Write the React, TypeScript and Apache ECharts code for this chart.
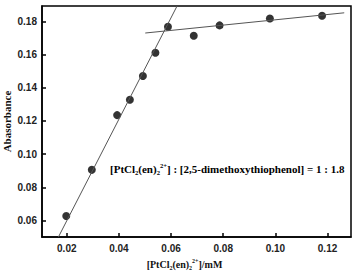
import React, { useEffect, useRef } from "react";
import * as echarts from "echarts";

const concX = [0.0198, 0.0296, 0.0393, 0.0442, 0.0492, 0.054, 0.0588, 0.0687, 0.0786, 0.0979, 0.1179];
const absorb = [0.0627, 0.0905, 0.1235, 0.1328, 0.1471, 0.1611, 0.1768, 0.1714, 0.1776, 0.1818, 0.1834];
const steepLineX = [0.0168, 0.0623];
const steepLineY = [0.05, 0.1893];
const flatLineX = [0.0501, 0.1264];
const flatLineY = [0.173, 0.1852];
const xTicks = [0.02, 0.04, 0.06, 0.08, 0.1, 0.12];
const yTicks = [0.06, 0.08, 0.1, 0.12, 0.14, 0.16, 0.18];

const serif = "'Liberation Serif', 'Times New Roman', serif";
const sans = "'Liberation Sans', Arial, sans-serif";

export default function App() {
  const ref = useRef<HTMLDivElement>(null);
  useEffect(() => {
    if (!ref.current) return;
    const chart = echarts.init(ref.current, null, { renderer: "svg" });
    const mkRich = (fs: number) => ({
      b: { fontFamily: serif, fontWeight: "bold", fontSize: fs, color: "#111" },
      sub: { fontFamily: serif, fontWeight: "bold", fontSize: fs * 0.6, color: "#111", padding: [7, 0, 0, 0] },
      sup: { fontFamily: serif, fontWeight: "bold", fontSize: fs * 0.6, color: "#111", padding: [0, 0, 7, 0] },
    });
    const axisLabelStyle = { fontFamily: sans, fontWeight: "bold", fontSize: 10, color: "#222" };
    chart.setOption({
      animation: false,
      grid: {
        left: 42, top: 6, right: 4, bottom: 38,
        outerBoundsMode: "none",
        containLabel: false,
        show: true, borderColor: "#000", borderWidth: 1.5, backgroundColor: "transparent",
      },
      xAxis: {
        type: "value",
        min: 0.0105,
        max: 0.129,
        name: "{b|[PtCl}{sub|2}{b|(en)}{sub|2}{sup|2+}{b|]/mM}",
        nameLocation: "middle",
        nameGap: 21,
        nameMoveOverlap: false,
        nameTextStyle: { rich: mkRich(10), padding: [0, 24, 0, 0] },
        axisLine: { show: true, lineStyle: { color: "#000", width: 1.5 } },
        axisTick: { show: true, inside: true, length: 4, customValues: xTicks, lineStyle: { color: "#000", width: 1.5 } },
        axisLabel: { ...axisLabelStyle, margin: 6, customValues: xTicks, formatter: (v: number) => v.toFixed(2) },
        splitLine: { show: false },
      },
      yAxis: {
        type: "value",
        min: 0.05,
        max: 0.1893,
        name: "Abasorbance",
        nameLocation: "middle",
        nameGap: 30,
        nameMoveOverlap: false,
        nameTextStyle: { fontFamily: serif, fontWeight: "bold", fontSize: 11, color: "#111" },
        axisLine: { show: true, lineStyle: { color: "#000", width: 1.5 } },
        axisTick: { show: true, inside: true, length: 4, customValues: yTicks, lineStyle: { color: "#000", width: 1.5 } },
        axisLabel: { ...axisLabelStyle, margin: 5, customValues: yTicks, formatter: (v: number) => v.toFixed(2) },
        splitLine: { show: false },
      },
      series: [
        {
          type: "line",
          data: steepLineX.map((x, i) => [x, steepLineY[i]]),
          showSymbol: false,
          lineStyle: { color: "#555", width: 1 },
          clip: true,
          silent: true,
        },
        {
          type: "line",
          data: flatLineX.map((x, i) => [x, flatLineY[i]]),
          showSymbol: false,
          lineStyle: { color: "#555", width: 1 },
          clip: true,
          silent: true,
        },
        {
          type: "scatter",
          data: concX.map((x, i) => [x, absorb[i]]),
          symbolSize: 8,
          itemStyle: { color: "#000" },
        },
      ],
      graphic: [
        {
          type: "text",
          left: 110,
          top: 162,
          style: {
            text: "{b|[PtCl}{sub|2}{b|(en)}{sub|2}{sup|2+}{b|] : [2,5-dimethoxythiophenol] = 1 : 1.8}",
            rich: mkRich(11),
          },
        },
      ],
    });
    return () => chart.dispose();
  }, []);
  return <div ref={ref} style={{ width: 355, height: 275, position: "absolute", left: 0, top: 0 }} />;
}
